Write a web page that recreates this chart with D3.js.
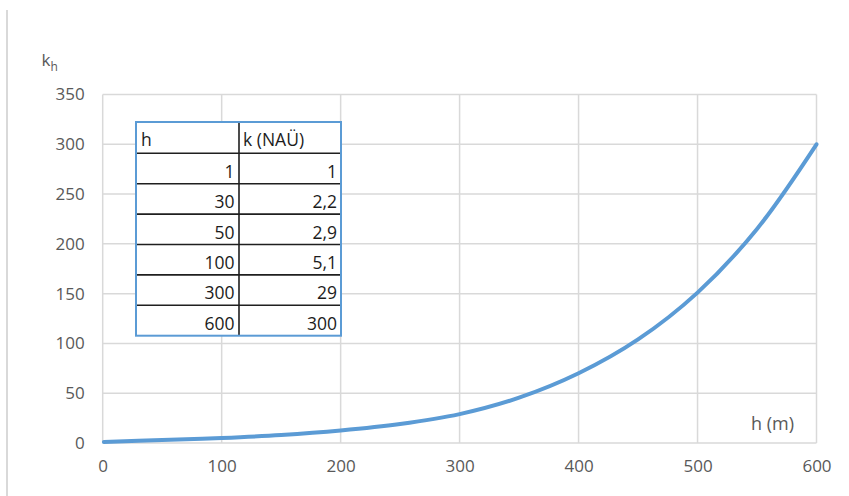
<!DOCTYPE html>
<html>
<head>
<meta charset="utf-8">
<script src="https://cdn.jsdelivr.net/npm/d3@7"></script>
<style>
  html, body { margin: 0; padding: 0; background: #fff; }
  svg { display: block; }
</style>
</head>
<body>
<svg id="chart" width="849" height="496"></svg>
<script>
// ---- data ----
const hValues = [1, 50, 100, 150, 200, 250, 300, 350, 400, 450, 500, 550, 600];
const kValues = [1, 3, 5.1, 8, 12.5, 19, 29, 45.5, 70, 104, 151, 215, 300];
const xTicks = [0, 100, 200, 300, 400, 500, 600];
const yTicks = [0, 50, 100, 150, 200, 250, 300, 350];
const tableHeader = ["h", "k (NAÜ)"];
const tableH = ["1", "30", "50", "100", "300", "600"];
const tableK = ["1", "2,2", "2,9", "5,1", "29", "300"];
const xLabel = "h (m)";

// ---- layout ----
const FONT = "'Open Sans', 'Liberation Sans', sans-serif";
const plot = { left: 102.7, right: 816.5, top: 94.5, bottom: 443 };
const svg = d3.select("#chart");

const x = d3.scaleLinear().domain([0, 600]).range([plot.left, plot.right]);
const y = d3.scaleLinear().domain([0, 350]).range([plot.bottom, plot.top]);

// chart-area left border
svg.append("line")
  .attr("x1", 7).attr("x2", 7).attr("y1", 10).attr("y2", 496)
  .attr("stroke", "#d9d9d9").attr("stroke-width", 2);

// gridlines
const grid = svg.append("g");
grid.selectAll("line.h").data(yTicks).join("line")
  .attr("x1", plot.left).attr("x2", plot.right)
  .attr("y1", d => y(d)).attr("y2", d => y(d))
  .attr("stroke", "#d9d9d9").attr("stroke-width", 1.5);
grid.selectAll("line.v").data(xTicks).join("line")
  .attr("x1", d => x(d)).attr("x2", d => x(d))
  .attr("y1", plot.top).attr("y2", plot.bottom)
  .attr("stroke", "#d9d9d9").attr("stroke-width", 1.5);

// axes (labels only)
const yAxis = d3.axisLeft(y).tickValues(yTicks).tickSize(0).tickPadding(18);
const gy = svg.append("g").attr("transform", `translate(${plot.left},0)`).call(yAxis);
gy.select(".domain").remove();
gy.selectAll("text").attr("fill", "#595959").style("font-family", FONT).style("font-size", "17px");

const xAxis = d3.axisBottom(x).tickValues(xTicks).tickSize(0).tickPadding(17);
const gx = svg.append("g").attr("transform", `translate(0,${plot.bottom})`).call(xAxis);
gx.select(".domain").remove();
gx.selectAll("text").attr("fill", "#595959").style("font-family", FONT).style("font-size", "17px");

// axis titles
const kt = svg.append("text").attr("x", 41.5).attr("y", 66)
  .attr("fill", "#595959").style("font-family", FONT).style("font-size", "17px");
kt.append("tspan").text("k");
kt.append("tspan").attr("dy", 5).style("font-size", "12px").text("h");

svg.append("text").attr("x", 794).attr("y", 430).attr("text-anchor", "end")
  .attr("fill", "#595959").style("font-family", FONT).style("font-size", "18px")
  .text(xLabel);

// curve
const line = d3.line().x((d, i) => x(hValues[i])).y(d => y(d)).curve(d3.curveCatmullRom.alpha(0.5));
svg.append("path").datum(kValues)
  .attr("d", line)
  .attr("fill", "none").attr("stroke", "#5b9bd5").attr("stroke-width", 4)
  .attr("stroke-linecap", "round");

// table
const tb = { left: 136, right: 341, top: 122, headerH: 31.3, rowH: 30.4, split: 239 };
const tg = svg.append("g");
const nRows = tableH.length;
const bottom = tb.top + tb.headerH + nRows * tb.rowH;
tg.append("rect").attr("x", tb.left).attr("y", tb.top)
  .attr("width", tb.right - tb.left).attr("height", bottom - tb.top)
  .attr("fill", "#fff");
const rowLines = d3.range(nRows).map(i => tb.top + tb.headerH + i * tb.rowH);
tg.selectAll("line.r").data(rowLines).join("line")
  .attr("x1", tb.left).attr("x2", tb.right)
  .attr("y1", d => d).attr("y2", d => d)
  .attr("stroke", "#1f1f1f").attr("stroke-width", 1.6);
tg.append("line").attr("x1", tb.split).attr("x2", tb.split)
  .attr("y1", tb.top).attr("y2", bottom)
  .attr("stroke", "#1f1f1f").attr("stroke-width", 1.6);
tg.append("rect").attr("x", tb.left).attr("y", tb.top)
  .attr("width", tb.right - tb.left).attr("height", bottom - tb.top)
  .attr("fill", "none").attr("stroke", "#5b9bd5").attr("stroke-width", 2);

const TFONT = "'Open Sans', 'Liberation Sans', sans-serif";
const TSIZE = "17.5px";
const TCOL = "#1c1c1c";
tg.append("text").attr("x", 141).attr("y", tb.top + tb.headerH - 7)
  .attr("fill", TCOL).style("font-family", TFONT).style("font-size", TSIZE).text(tableHeader[0]);
tg.append("text").attr("x", 243).attr("y", tb.top + tb.headerH - 7)
  .attr("fill", TCOL).style("font-family", TFONT).style("font-size", TSIZE).text(tableHeader[1]);
tg.selectAll("text.ch").data(tableH).join("text")
  .attr("x", 234.5).attr("y", (d, i) => tb.top + tb.headerH + (i + 1) * tb.rowH - 6)
  .attr("text-anchor", "end").attr("fill", TCOL)
  .style("font-family", TFONT).style("font-size", TSIZE).text(d => d);
tg.selectAll("text.ck").data(tableK).join("text")
  .attr("x", 337).attr("y", (d, i) => tb.top + tb.headerH + (i + 1) * tb.rowH - 6)
  .attr("text-anchor", "end").attr("fill", TCOL)
  .style("font-family", TFONT).style("font-size", TSIZE).text(d => d);
</script>
</body>
</html>
